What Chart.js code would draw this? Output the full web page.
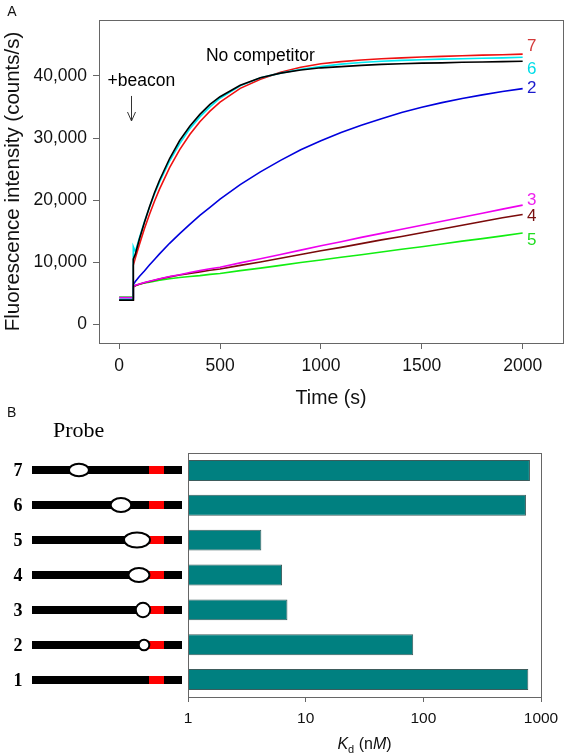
<!DOCTYPE html>
<html>
<head>
<meta charset="utf-8">
<script src="https://cdn.jsdelivr.net/npm/chart.js@4.4.1/dist/chart.umd.min.js"></script>
<style>
  html, body { margin: 0; padding: 0; background: #fff; }
  #wrap { position: relative; width: 568px; height: 756px; }
  canvas { position: absolute; left: 0; }
  #kinetics { top: 0; }
  #affinity { top: 400px; }
</style>
</head>
<body>
<div id="wrap">
  <canvas id="kinetics" width="568" height="410"></canvas>
  <canvas id="affinity" width="568" height="356"></canvas>
</div>
<script>
// panel A: fluorescence traces
const times = [0, 69, 70, 80, 100, 125, 150, 175, 200, 250, 300, 350, 400, 450, 500,
  600, 700, 800, 900, 1000, 1100, 1200, 1300, 1400, 1500, 1600, 1700, 1800, 1900, 2000];
const noCompetitor = [3900, 3900, 10500, 11300, 13700, 16400, 18900, 21200, 23200, 26700, 29600, 31900, 33800, 35400, 36650,
  38500, 39700, 40450, 40950, 41300, 41500, 41700, 41850, 41950, 42050, 42100, 42200, 42250, 42300, 42350];
const probe7 = [3900, 3900, 9500, 10660, 12830, 15390, 17700, 19830, 21780, 25240, 28130, 30560, 32620, 34320, 35780,
  38000, 39450, 40600, 41400, 41950, 42300, 42550, 42750, 42900, 43050, 43150, 43250, 43350, 43400, 43500];
const probe6 = [4000, 4000, 12500, 11700, 13900, 16500, 18800, 21000, 22900, 26300, 29100, 31500, 33400, 35000, 36400,
  38400, 39700, 40450, 41050, 41500, 41900, 42150, 42350, 42500, 42600, 42700, 42750, 42850, 42900, 43000];
const probe2 = [4000, 4000, 6400, 6900, 7700, 8600, 9550, 10450, 11350, 13050, 14600, 16100, 17550, 18850, 20150,
  22500, 24550, 26400, 28100, 29550, 30900, 32050, 33100, 34100, 34950, 35700, 36350, 36950, 37500, 37950];
const probe3 = [4300, 4300, 6100, 6300, 6500, 6750, 6950, 7150, 7350, 7700, 8000, 8350, 8650, 8950, 9200,
  9900, 10550, 11250, 11950, 12650, 13300, 14000, 14650, 15300, 15950, 16600, 17250, 17900, 18550, 19200];
const probe4 = [3900, 3900, 6000, 6200, 6450, 6700, 6900, 7100, 7300, 7650, 7950, 8200, 8450, 8700, 8900,
  9500, 10050, 10650, 11250, 11850, 12400, 13000, 13600, 14150, 14750, 15350, 15950, 16550, 17150, 17700];
const probe5 = [4400, 4400, 6100, 6250, 6450, 6650, 6800, 6950, 7100, 7350, 7550, 7700, 7850, 8050, 8200,
  8650, 9050, 9500, 9950, 10350, 10800, 11200, 11650, 12100, 12500, 12950, 13400, 13800, 14250, 14700];
const timeTicks = [0, 500, 1000, 1500, 2000];
const intensityTicks = [0, 10000, 20000, 30000, 40000];

// panel B: dissociation constants
const probeLabels = ['7', '6', '5', '4', '3', '2', '1'];
const kdValues = [805, 745, 4.2, 6.3, 7.0, 82, 780];
const kdTicks = [1, 10, 100, 1000];

const SANS = "'Liberation Sans', Arial, sans-serif";
const SERIF = "'Liberation Serif', 'Times New Roman', serif";

const boxPlugin = {
  id: 'box',
  afterDatasetsDraw(chart) {
    const { ctx, chartArea: a } = chart;
    ctx.save();
    ctx.strokeStyle = '#666';
    ctx.lineWidth = 1;
    ctx.strokeRect(Math.round(a.left) + 0.5, Math.round(a.top) + 0.5,
      Math.round(a.right - a.left), Math.round(a.bottom - a.top));
    ctx.restore();
  }
};

// series tags at the right end of each trace
const tagColors = { '7': '#d43a3a', '6': '#00dde8', '2': '#1a1acc', '3': '#ee22ee', '4': '#7a1010', '5': '#22dd22' };
const tagNudge = { '7': 1200, '6': -1900, '2': 0, '3': 800, '4': -300, '5': -1150 };

const notesPlugin = {
  id: 'notes',
  afterDatasetsDraw(chart) {
    const { ctx, scales: { x, y } } = chart;
    ctx.save();
    ctx.fillStyle = '#000';
    ctx.textAlign = 'center';
    ctx.textBaseline = 'middle';
    ctx.font = '17.5px ' + SANS;
    ctx.fillText('No competitor', x.getPixelForValue(700), y.getPixelForValue(43100));
    ctx.fillText('+beacon', x.getPixelForValue(110), y.getPixelForValue(39100));

    // arrow for the beacon addition
    const ax = Math.round(x.getPixelForValue(59)) + 0.5;
    const y0 = y.getPixelForValue(36770), y1 = y.getPixelForValue(32740);
    ctx.strokeStyle = '#333';
    ctx.lineWidth = 1;
    ctx.beginPath();
    ctx.moveTo(ax, y0); ctx.lineTo(ax, y1);
    ctx.moveTo(ax - 4, y1 - 9); ctx.lineTo(ax, y1); ctx.lineTo(ax + 4, y1 - 9);
    ctx.stroke();

    ctx.font = '17px ' + SANS;
    chart.data.datasets.forEach(ds => {
      if (!(ds.label in tagColors)) return;
      const last = ds.data[ds.data.length - 1];
      ctx.fillStyle = tagColors[ds.label];
      ctx.fillText(ds.label, x.getPixelForValue(2045), y.getPixelForValue(last.y + tagNudge[ds.label]));
    });

    ctx.fillStyle = '#111';
    ctx.font = '14px ' + SANS;
    ctx.fillText('A', 12, 12);
    ctx.restore();
  }
};

const traces = [
  ['No competitor', noCompetitor, '#000000'],
  ['6', probe6, '#00e8f0'],
  ['7', probe7, '#ee1111'],
  ['2', probe2, '#0000dd'],
  ['3', probe3, '#ee00ee'],
  ['4', probe4, '#7a0a0a'],
  ['5', probe5, '#11ee11']
];

new Chart(document.getElementById('kinetics'), {
  type: 'line',
  data: {
    datasets: traces.map(([label, vals, color]) => ({
      label,
      data: times.map((t, i) => ({ x: t, y: vals[i] })),
      borderColor: color,
      borderWidth: 1.6,
      pointRadius: 0,
      tension: 0,
      fill: false
    }))
  },
  options: {
    responsive: false,
    animation: false,
    devicePixelRatio: 1,
    layout: { padding: { top: 20, right: 5, left: 0, bottom: 0 } },
    plugins: { legend: { display: false }, tooltip: { enabled: false } },
    scales: {
      x: {
        type: 'linear',
        min: -100,
        max: 2200,
        afterBuildTicks: s => { s.ticks = timeTicks.map(v => ({ value: v })); },
        afterFit: s => { s.height = 67; },
        ticks: { callback: v => String(v), font: { family: SANS, size: 17.5 }, color: '#111', padding: 7, maxRotation: 0 },
        grid: { drawOnChartArea: false, tickLength: 6, color: '#666' },
        border: { color: '#666' },
        title: { display: true, text: 'Time (s)', font: { family: SANS, size: 19.5 }, color: '#111', padding: { top: 0, bottom: 0 } }
      },
      y: {
        min: -3000,
        max: 49000,
        afterBuildTicks: s => { s.ticks = intensityTicks.map(v => ({ value: v })); },
        afterFit: s => { s.width = 99; },
        ticks: { font: { family: SANS, size: 17.5 }, color: '#111', padding: 6 },
        grid: { drawOnChartArea: false, tickLength: 6, color: '#666' },
        border: { color: '#666' },
        title: { display: true, text: 'Fluorescence intensity (counts/s)', font: { family: SANS, size: 20.5 }, color: '#111', padding: { top: 1, bottom: 0 } }
      }
    }
  },
  plugins: [boxPlugin, notesPlugin]
});

// probe sketch geometry: bulge centre as fraction of strand, radii in px
const probeBulges = [
  { at: 0.313, rx: 10, ry: 6.3 },
  { at: 0.593, rx: 10.3, ry: 7 },
  { at: 0.70, rx: 13, ry: 7.5 },
  { at: 0.713, rx: 10.5, ry: 7 },
  { at: 0.74, rx: 7.2, ry: 7.2 },
  { at: 0.747, rx: 5.3, ry: 5.3 },
  null
];

const probePlugin = {
  id: 'probes',
  afterDraw(chart) {
    const { ctx, scales: { y } } = chart;
    const x0 = 32, x1 = 182;
    ctx.save();
    probeLabels.forEach((lab, i) => {
      const py = Math.round(y.getPixelForValue(i));
      ctx.fillStyle = '#000';
      ctx.font = 'bold 18px ' + SERIF;
      ctx.textAlign = 'center';
      ctx.textBaseline = 'middle';
      ctx.fillText(lab, 18, py + 1);
      ctx.fillRect(x0, py - 4, x1 - x0, 8);
      ctx.fillStyle = '#ff0000';
      ctx.fillRect(149, py - 4, 15, 8);
      const b = probeBulges[i];
      if (b) {
        ctx.beginPath();
        ctx.ellipse(x0 + b.at * (x1 - x0), py, b.rx, b.ry, 0, 0, Math.PI * 2);
        ctx.fillStyle = '#fff';
        ctx.fill();
        ctx.lineWidth = 2;
        ctx.strokeStyle = '#000';
        ctx.stroke();
      }
    });

    ctx.fillStyle = '#000';
    ctx.textAlign = 'left';
    ctx.textBaseline = 'middle';
    ctx.font = '22px ' + SERIF;
    ctx.fillText('Probe', 53, 31);
    ctx.fillStyle = '#111';
    ctx.font = '14px ' + SANS;
    ctx.fillText('B', 7, 13);

    // axis title: K_d (nM)
    const parts = [
      ['K', 'italic 16px ' + SANS, 0],
      ['d', '11px ' + SANS, 4],
      [' (n', '16px ' + SANS, 0],
      ['M', 'italic 16px ' + SANS, 0],
      [')', '16px ' + SANS, 0]
    ];
    let w = 0;
    parts.forEach(([t, f]) => { ctx.font = f; w += ctx.measureText(t).width; });
    let cx = (chart.chartArea.left + chart.chartArea.right) / 2 - w / 2;
    const ty = 343;
    ctx.fillStyle = '#111';
    ctx.textBaseline = 'alphabetic';
    parts.forEach(([t, f, dy]) => {
      ctx.font = f;
      ctx.fillText(t, cx, ty + 6 + dy);
      cx += ctx.measureText(t).width;
    });
    ctx.restore();
  }
};

new Chart(document.getElementById('affinity'), {
  type: 'bar',
  data: {
    labels: probeLabels,
    datasets: [{
      data: kdValues,
      backgroundColor: '#008080',
      borderColor: '#3d5c5c',
      borderWidth: 1,
      barPercentage: 0.6,
      categoryPercentage: 1
    }]
  },
  options: {
    indexAxis: 'y',
    responsive: false,
    animation: false,
    devicePixelRatio: 1,
    layout: { padding: { top: 53, right: 27, left: 0, bottom: 0 } },
    plugins: { legend: { display: false }, tooltip: { enabled: false } },
    scales: {
      x: {
        type: 'logarithmic',
        min: 1,
        max: 1000,
        afterBuildTicks: s => { s.ticks = kdTicks.map(v => ({ value: v })); },
        afterFit: s => { s.height = 59; },
        ticks: { callback: v => String(v), font: { family: SANS, size: 15.5 }, color: '#111', padding: 7, maxRotation: 0, autoSkip: false },
        grid: { drawOnChartArea: false, tickLength: 5, color: '#666' },
        border: { color: '#666' }
      },
      y: {
        afterFit: s => { s.width = 188; },
        ticks: { display: false },
        grid: { display: false },
        border: { display: true, color: '#666' }
      }
    }
  },
  plugins: [boxPlugin, probePlugin]
});
</script>
</body>
</html>
